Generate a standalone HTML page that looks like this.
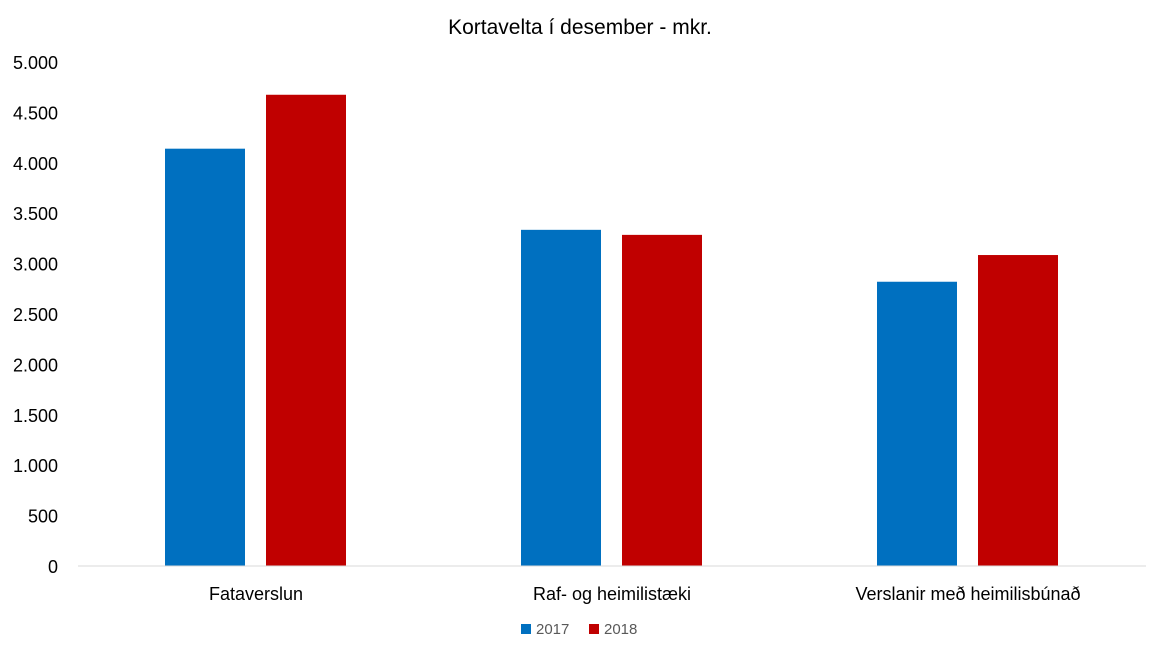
<!DOCTYPE html>
<html><head><meta charset="utf-8"><style>
body{margin:0;background:#fff;font-family:"Liberation Sans",sans-serif;}
</style></head><body>
<svg id="chart" width="1160" height="652" xmlns="http://www.w3.org/2000/svg">
<text x="580" y="34" text-anchor="middle" font-size="21" fill="#000">Kortavelta í desember  - mkr.</text>
<g id="yaxis"></g>
<g id="bars"></g>
<g id="xaxis"></g>
<g>
<rect x="521" y="624" width="10" height="10" fill="#0070C0"/>
<text x="536" y="634" font-size="15" fill="#595959">2017</text>
<rect x="589" y="624" width="10" height="10" fill="#C00000"/>
<text x="604" y="634" font-size="15" fill="#595959">2018</text>
</g>
</svg>
<script>
const categories=["Fataverslun","Raf- og heimilistæki","Verslanir með heimilisbúnað"];
const series2017=[4140,3335,2820];
const series2018=[4675,3285,3085];
const yTicks=[0,500,1000,1500,2000,2500,3000,3500,4000,4500,5000];
const yTickLabels=["0","500","1.000","1.500","2.000","2.500","3.000","3.500","4.000","4.500","5.000"];
const NS="http://www.w3.org/2000/svg";
const x0=78,x1=1146,y0=566,yTop=62,yMax=5000;
const y=v=>y0-(v/yMax)*(y0-yTop);
const step=(x1-x0)/categories.length;
const cx=i=>x0+step*(i+0.5);
function mk(t,a,p){const e=document.createElementNS(NS,t);for(const k in a)e.setAttribute(k,a[k]);p.appendChild(e);return e;}
const ya=document.getElementById('yaxis'),ba=document.getElementById('bars'),xa=document.getElementById('xaxis');
yTicks.forEach((v,i)=>{const t=mk('text',{x:58,y:y(v)+7,'text-anchor':'end','font-size':'18',fill:'#000'},ya);t.textContent=yTickLabels[i];

});
const ax=mk('line',{x1:x0,x2:x1,y1:y0,y2:y0,stroke:'#d9d9d9','stroke-width':1},xa);


categories.forEach((c,i)=>{
const b1=mk('rect',{x:cx(i)-91,y:y(series2017[i]),width:80,height:y0-y(series2017[i]),fill:'#0070C0'},ba);


const b2=mk('rect',{x:cx(i)+10,y:y(series2018[i]),width:80,height:y0-y(series2018[i]),fill:'#C00000'},ba);


const t=mk('text',{x:cx(i),y:600,'text-anchor':'middle','font-size':18,fill:'#000'},xa);t.textContent=c;


});
</script>
</body></html>
